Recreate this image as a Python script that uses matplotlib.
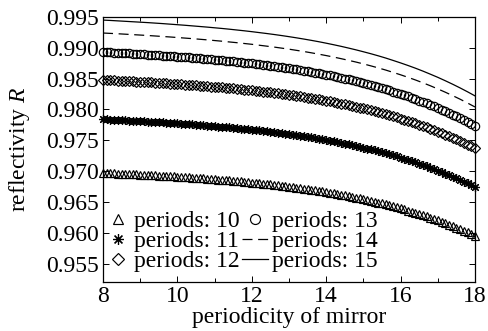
import matplotlib
matplotlib.use('Agg')
import matplotlib.pyplot as plt
import numpy as np
from matplotlib.ticker import MultipleLocator

plt.rcParams['font.family'] = 'Liberation Serif'
plt.rcParams['mathtext.fontset'] = 'custom'
plt.rcParams['mathtext.it'] = 'Liberation Serif:italic'
plt.rcParams['mathtext.rm'] = 'Liberation Serif'

# periodicity of mirror: marker series sampled every 0.1, line series every 0.2
x_mark = np.arange(80, 181) / 10.0
x_line = np.arange(40, 91) / 5.0

s10 = [0.96970, 0.96967, 0.96965, 0.96962, 0.96959, 0.96957, 0.96954, 0.96951, 0.96948, 0.96945,
       0.96942, 0.96939, 0.96936, 0.96932, 0.96929, 0.96926, 0.96922, 0.96919, 0.96915, 0.96912,
       0.96908, 0.96904, 0.96900, 0.96896, 0.96892, 0.96888, 0.96884, 0.96880, 0.96875, 0.96871,
       0.96866, 0.96862, 0.96857, 0.96852, 0.96847, 0.96842, 0.96837, 0.96831, 0.96826, 0.96820,
       0.96814, 0.96808, 0.96802, 0.96796, 0.96789, 0.96783, 0.96776, 0.96769, 0.96762, 0.96754,
       0.96747, 0.96739, 0.96731, 0.96723, 0.96715, 0.96706, 0.96697, 0.96688, 0.96679, 0.96669,
       0.96659, 0.96649, 0.96639, 0.96628, 0.96617, 0.96605, 0.96594, 0.96582, 0.96570, 0.96557,
       0.96544, 0.96531, 0.96517, 0.96503, 0.96489, 0.96474, 0.96459, 0.96443, 0.96427, 0.96411,
       0.96394, 0.96377, 0.96359, 0.96341, 0.96322, 0.96303, 0.96283, 0.96263, 0.96242, 0.96221,
       0.96199, 0.96177, 0.96154, 0.96131, 0.96107, 0.96082, 0.96057, 0.96031, 0.96005, 0.95978,
       0.95950]

s11 = [0.97840, 0.97837, 0.97834, 0.97832, 0.97829, 0.97826, 0.97822, 0.97819, 0.97816, 0.97813,
       0.97810, 0.97806, 0.97803, 0.97799, 0.97796, 0.97792, 0.97789, 0.97785, 0.97781, 0.97777,
       0.97773, 0.97769, 0.97765, 0.97761, 0.97756, 0.97752, 0.97747, 0.97743, 0.97738, 0.97733,
       0.97728, 0.97723, 0.97718, 0.97713, 0.97707, 0.97702, 0.97696, 0.97690, 0.97684, 0.97678,
       0.97672, 0.97665, 0.97659, 0.97652, 0.97645, 0.97638, 0.97631, 0.97623, 0.97615, 0.97608,
       0.97599, 0.97591, 0.97582, 0.97574, 0.97565, 0.97555, 0.97546, 0.97536, 0.97526, 0.97515,
       0.97505, 0.97494, 0.97483, 0.97471, 0.97459, 0.97447, 0.97434, 0.97421, 0.97408, 0.97395,
       0.97381, 0.97366, 0.97352, 0.97337, 0.97321, 0.97305, 0.97289, 0.97272, 0.97255, 0.97237,
       0.97219, 0.97200, 0.97181, 0.97161, 0.97141, 0.97120, 0.97099, 0.97078, 0.97055, 0.97032,
       0.97009, 0.96985, 0.96960, 0.96935, 0.96909, 0.96883, 0.96855, 0.96828, 0.96799, 0.96770,
       0.96740]

s12 = [0.98480, 0.98477, 0.98474, 0.98471, 0.98468, 0.98465, 0.98462, 0.98459, 0.98456, 0.98453,
       0.98449, 0.98446, 0.98443, 0.98439, 0.98436, 0.98432, 0.98428, 0.98424, 0.98420, 0.98417,
       0.98413, 0.98408, 0.98404, 0.98400, 0.98396, 0.98391, 0.98387, 0.98382, 0.98377, 0.98372,
       0.98367, 0.98362, 0.98357, 0.98352, 0.98346, 0.98341, 0.98335, 0.98329, 0.98323, 0.98317,
       0.98310, 0.98304, 0.98297, 0.98290, 0.98283, 0.98276, 0.98269, 0.98261, 0.98253, 0.98245,
       0.98237, 0.98229, 0.98220, 0.98211, 0.98202, 0.98193, 0.98183, 0.98173, 0.98163, 0.98152,
       0.98142, 0.98131, 0.98119, 0.98108, 0.98096, 0.98083, 0.98071, 0.98058, 0.98044, 0.98031,
       0.98017, 0.98002, 0.97987, 0.97972, 0.97956, 0.97940, 0.97924, 0.97907, 0.97889, 0.97871,
       0.97853, 0.97834, 0.97815, 0.97795, 0.97775, 0.97754, 0.97733, 0.97711, 0.97688, 0.97665,
       0.97641, 0.97617, 0.97592, 0.97567, 0.97541, 0.97514, 0.97486, 0.97458, 0.97430, 0.97400,
       0.97370]

s13 = [0.98930, 0.98927, 0.98924, 0.98921, 0.98918, 0.98914, 0.98911, 0.98908, 0.98904, 0.98901,
       0.98897, 0.98893, 0.98890, 0.98886, 0.98882, 0.98878, 0.98874, 0.98870, 0.98866, 0.98861,
       0.98857, 0.98853, 0.98848, 0.98843, 0.98839, 0.98834, 0.98829, 0.98824, 0.98819, 0.98814,
       0.98808, 0.98803, 0.98797, 0.98791, 0.98785, 0.98779, 0.98773, 0.98767, 0.98760, 0.98753,
       0.98747, 0.98740, 0.98732, 0.98725, 0.98717, 0.98710, 0.98702, 0.98693, 0.98685, 0.98676,
       0.98668, 0.98658, 0.98649, 0.98639, 0.98630, 0.98619, 0.98609, 0.98598, 0.98587, 0.98576,
       0.98564, 0.98552, 0.98540, 0.98527, 0.98514, 0.98501, 0.98487, 0.98473, 0.98459, 0.98444,
       0.98429, 0.98413, 0.98397, 0.98381, 0.98364, 0.98346, 0.98329, 0.98310, 0.98291, 0.98272,
       0.98252, 0.98232, 0.98211, 0.98190, 0.98168, 0.98145, 0.98122, 0.98098, 0.98074, 0.98049,
       0.98023, 0.97997, 0.97970, 0.97943, 0.97914, 0.97886, 0.97856, 0.97826, 0.97794, 0.97763,
       0.97730]

s14 = [0.99240, 0.99234, 0.99228, 0.99221, 0.99214, 0.99207, 0.99200, 0.99192, 0.99184, 0.99176,
       0.99167, 0.99158, 0.99149, 0.99139, 0.99129, 0.99118, 0.99107, 0.99095, 0.99083, 0.99070,
       0.99057, 0.99042, 0.99027, 0.99012, 0.98995, 0.98978, 0.98959, 0.98940, 0.98919, 0.98897,
       0.98874, 0.98850, 0.98824, 0.98797, 0.98769, 0.98739, 0.98707, 0.98674, 0.98639, 0.98601,
       0.98562, 0.98521, 0.98478, 0.98432, 0.98384, 0.98333, 0.98280, 0.98224, 0.98166, 0.98104,
       0.98040]

s15 = [0.99450, 0.99444, 0.99437, 0.99430, 0.99423, 0.99416, 0.99409, 0.99401, 0.99393, 0.99384,
       0.99375, 0.99366, 0.99356, 0.99346, 0.99336, 0.99325, 0.99314, 0.99302, 0.99289, 0.99276,
       0.99262, 0.99247, 0.99232, 0.99216, 0.99199, 0.99181, 0.99162, 0.99142, 0.99121, 0.99099,
       0.99075, 0.99050, 0.99024, 0.98996, 0.98967, 0.98936, 0.98904, 0.98870, 0.98834, 0.98795,
       0.98755, 0.98713, 0.98669, 0.98622, 0.98572, 0.98521, 0.98466, 0.98409, 0.98349, 0.98286,
       0.98220]

labels = ['periods: 10', 'periods: 11', 'periods: 12',
          'periods: 13', 'periods: 14', 'periods: 15']
x_ticks = [8, 10, 12, 14, 16, 18]
y_ticks = [0.955, 0.960, 0.965, 0.970, 0.975, 0.980, 0.985, 0.990, 0.995]

fig = plt.figure(figsize=(4.88, 3.31), dpi=100)
ax = fig.add_axes([103/488, 1 - 282/331, 372/488, 265/331])

mk = dict(ls='none', mfc='none', mec='k', mew=0.85, clip_on=False, zorder=3)
ax.plot(x_mark, s10, marker='^', ms=6, label=labels[0], **mk)
ax.plot(x_mark, s11, marker=(8, 2, 0), ms=6.5, label=labels[1], **mk)
ax.plot(x_mark, s12, marker='D', ms=5, label=labels[2], **mk)
ax.plot(x_mark, s13, marker='o', ms=6, label=labels[3], **mk)
ax.plot(x_line, s14, color='k', lw=0.9, dashes=(8, 4.5), label=labels[4])
ax.plot(x_line, s15, color='k', lw=0.9, label=labels[5])

ax.set_xlim(8, 18)
ax.set_ylim(0.952, 0.995)
ax.set_xticks(x_ticks)
ax.set_xticklabels([str(v) for v in x_ticks])
ax.xaxis.set_minor_locator(MultipleLocator(1))
ax.set_yticks(y_ticks)
ax.set_yticklabels(['%.3f' % v for v in y_ticks])
ax.tick_params(which='both', direction='in', top=True, right=True, labelsize=17,
               width=0.7, colors='k')
ax.tick_params(which='major', length=4, pad=3)
ax.tick_params(which='minor', length=3)
for sp in ax.spines.values():
    sp.set_linewidth(0.9)

ax.set_xlabel('periodicity of mirror', fontsize=17, labelpad=0)
ax.set_ylabel('reflectivity $R$', fontsize=17, labelpad=10)

ax.legend(ncol=2, loc='lower left', bbox_to_anchor=(0.005, 0.038), frameon=False,
          fontsize=17, handlelength=1.1, handletextpad=0.15, columnspacing=0.1,
          labelspacing=-0.07, borderpad=0, borderaxespad=0, markerscale=1.2,
          numpoints=1)

fig.savefig('out.png', dpi=100)
